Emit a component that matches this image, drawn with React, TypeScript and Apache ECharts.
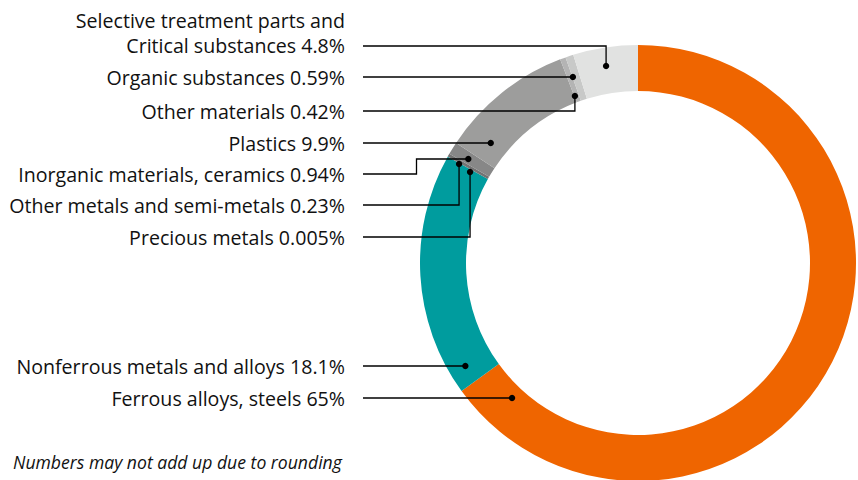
import React, { useEffect, useRef } from "react";
import * as echarts from "echarts";

const categories = [
  "Ferrous alloys, steels",
  "Nonferrous metals and alloys",
  "Precious metals",
  "Other metals and semi-metals",
  "Inorganic materials, ceramics",
  "Plastics",
  "Other materials",
  "Organic substances",
  "Selective treatment parts and\nCritical substances",
];
const values = [65, 18.1, 0.005, 0.23, 0.94, 9.9, 0.42, 0.59, 4.8];
const valueLabels = ["65%", "18.1%", "0.005%", "0.23%", "0.94%", "9.9%", "0.42%", "0.59%", "4.8%"];
const colors = ["#EF6500", "#009C9E", "#555555", "#737373", "#878787", "#9D9D9C", "#B4B4B4", "#C8C9C8", "#E1E2E1"];

// label layout (annotation positions, not data)
const CX = 638;
const CY = 263;
const LABEL_RIGHT = 345;
const LINE_START = 363;
const rowY = [398, 366, 237, 205, 174, 143, 111, 77, 46];
// dot anchor: clockwise angle from top (deg), radius
const dotAnchor: [number, number][] = [
  [223.0, 184.7],
  [239.2, 201],
  [298.45, 191],
  [298.95, 204.5],
  [301.5, 199],
  [309.2, 190],
  [339.3, 178.5],
  [340.7, 197],
  [350.8, 199.6],
];

function dotPos(i: number): [number, number] {
  const [a, r] = dotAnchor[i];
  const rad = (a * Math.PI) / 180;
  return [CX + r * Math.sin(rad), CY - r * Math.cos(rad)];
}

function linePoints(i: number): number[][] {
  const [dx, dy] = dotPos(i);
  const y = rowY[i];
  if (i === 4) {
    return [[dx, dy], [416.5, dy], [416.5, y], [LINE_START, y]];
  }
  if (Math.abs(dy - y) < 3) {
    return [[dx, y], [LINE_START, y]];
  }
  return [[dx, dy], [dx, y], [LINE_START, y]];
}

export default function App() {
  const ref = useRef<HTMLDivElement>(null);
  useEffect(() => {
    if (!ref.current) return;
    const chart = echarts.init(ref.current, undefined, { renderer: "svg" });
    const data = categories.map((name, i) => ({
      name,
      value: values[i],
      itemStyle: { color: colors[i] },
    }));
    const guides: any[] = [];
    categories.forEach((_, i) => {
      const pts = linePoints(i);
      guides.push({
        type: "polyline",
        shape: { points: pts },
        style: { stroke: "#000", lineWidth: 1.3, fill: null },
        z: 100,
        silent: true,
      });
      guides.push({
        type: "circle",
        shape: { cx: pts[0][0], cy: pts[0][1], r: 3.2 },
        style: { fill: "#000" },
        z: 101,
        silent: true,
      });
    });
    chart.setOption({
      animation: false,
      backgroundColor: "#ffffff",
      series: [
        {
          type: "pie",
          center: [CX, CY],
          radius: [172, 218],
          startAngle: 90,
          clockwise: true,
          avoidLabelOverlap: false,
          minAngle: 0,
          itemStyle: { borderWidth: 0 },
          emphasis: { disabled: true },
          data,
          label: {
            show: true,
            position: "outside",
            formatter: (p: any) => `${p.name} ${valueLabels[p.dataIndex]}`,
            fontFamily: "Open Sans",
            fontSize: 19.6,
            color: "#111",
            lineHeight: 25,
            align: "right",
          },
          labelLine: { show: false },
          labelLayout: (p: any) => {
            const i = p.dataIndex;
            const y = i === 8 ? rowY[i] - 13 : rowY[i];
            return {
              x: LABEL_RIGHT,
              y,
              align: "right",
              verticalAlign: "middle",
            };
          },
        },
      ],
      graphic: [
        ...guides,
        {
          type: "text",
          left: 13,
          top: 453,
          style: {
            text: "Numbers may not add up due to rounding",
            fontFamily: "Open Sans",
            fontStyle: "italic",
            fontSize: 17.6,
            fill: "#111",
          },
        },
      ],
    });
    return () => chart.dispose();
  }, []);
  return <div ref={ref} style={{ width: 858, height: 480, position: "absolute", left: 0, top: 0 }} />;
}
